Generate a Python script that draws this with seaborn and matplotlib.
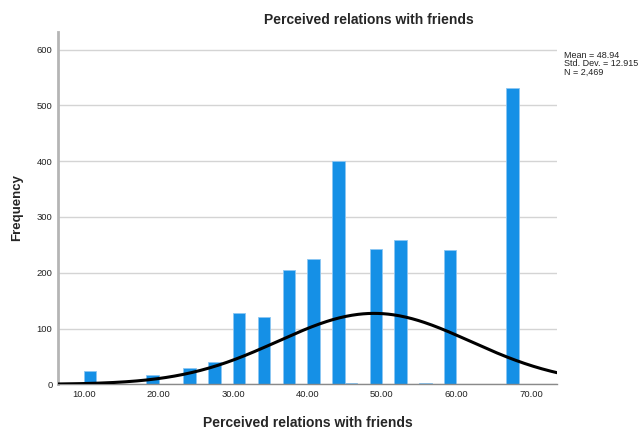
import matplotlib
matplotlib.use("Agg")
import matplotlib.pyplot as plt
import seaborn as sns
import numpy as np
import pandas as pd

# =====================================================
# DATA
# =====================================================
bin_width = 5 / 3
bin_start = 10.0
bin_lefts = [10.00, 18.33, 23.33, 26.67, 30.00, 33.33, 36.67, 40.00,
             43.33, 45.00, 48.33, 51.67, 55.00, 58.33, 66.67]
counts = [24, 17, 30, 40, 128, 120, 204, 224,
          401, 2, 242, 258, 2, 241, 531]

mean_val = 48.94
std_val = 12.915
n_val = 2469

y_ticks = [0, 100, 200, 300, 400, 500, 600]
x_ticks = [10, 20, 30, 40, 50, 60, 70]

title = "Perceived relations with friends"

# =====================================================
# STYLE
# =====================================================
sns.set_style("white")
plt.rcParams["font.family"] = ["Liberation Sans", "DejaVu Sans"]

fig = plt.figure(figsize=(6.42, 4.34), dpi=100)
ax = fig.add_axes([0.0903, 0.1145, 0.7773, 0.8125])

hist_df = pd.DataFrame({
    "value": [l + bin_width / 2 for l in bin_lefts],
    "count": counts,
})
edges = list(bin_start + bin_width * np.arange(0, 37))

sns.histplot(
    data=hist_df,
    x="value",
    weights="count",
    bins=edges,
    ax=ax,
    color="#1590e6",
    edgecolor="#8cc6f2",
    linewidth=0.6,
    alpha=1.0,
    zorder=2,
)

# normal curve from the reported statistics
xs = np.linspace(6.5, 73.5, 400)
ys = n_val * bin_width * np.exp(-0.5 * ((xs - mean_val) / std_val) ** 2) / (std_val * np.sqrt(2 * np.pi))
ax.plot(xs, ys, color="black", linewidth=2.2, zorder=3)

ax.set_xlim(6.5, 73.5)
ax.set_ylim(0, 632)
ax.set_yticks(y_ticks)
ax.set_xticks(x_ticks)
ax.set_xticklabels([f"{v:.2f}" for v in x_ticks])
ax.tick_params(axis="both", length=0, labelsize=6.8, colors="#222222", pad=4)

ax.grid(axis="y", color="#d4d4d4", linewidth=1.0, zorder=0)
ax.set_axisbelow(True)

for s in ["top", "right"]:
    ax.spines[s].set_visible(False)
ax.spines["left"].set_color("#b5b5b5")
ax.spines["left"].set_linewidth(2.0)
ax.spines["bottom"].set_color("#8a8a8a")
ax.spines["bottom"].set_linewidth(1.0)

ax.set_xlabel(title, fontsize=10, fontweight="bold", labelpad=12)
ax.set_ylabel("Frequency", fontsize=9.5, fontweight="bold", labelpad=10)

fig.text(0.575, 0.953, title, ha="center", va="center", fontsize=10, fontweight="bold")

fig.text(
    0.879, 0.882,
    f"Mean = {mean_val:.2f}\nStd. Dev. = {std_val:.3f}\nN = {n_val:,}",
    ha="left", va="top", fontsize=6.5, linespacing=0.88, color="#222222",
)

plt.savefig("out.png", dpi=100, facecolor="white")
plt.close()
